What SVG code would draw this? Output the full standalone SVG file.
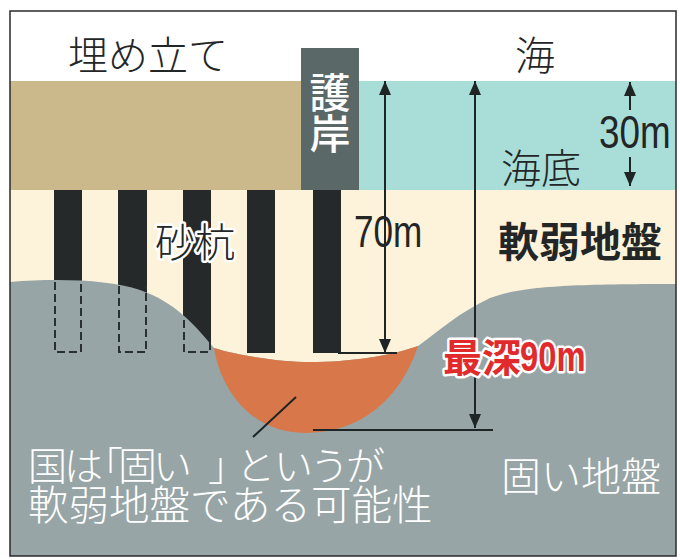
<svg xmlns="http://www.w3.org/2000/svg" width="680" height="560" viewBox="0 0 680 560">
  <style>
    .jp { font-family: "Noto Sans CJK JP", "Noto Sans CJK SC", sans-serif; }
    .num { font-family: "Liberation Sans", Arial, sans-serif; }
    .ink { fill: #232626; }
    .thin { font-weight: 300; }
    .white { fill: #ffffff; }
    .halo { paint-order: stroke; stroke: #ffffff; stroke-width: 5; stroke-linejoin: round; }
    .red { fill: #e12a2b; font-weight: 700; }
    .dim { stroke: #1f2424; stroke-width: 2; fill: none; }
    .pile { fill: #25292a; }
    .ghost { fill: none; stroke: #2a3030; stroke-width: 2; stroke-dasharray: 8 4; }
  </style>
  <defs>
    <marker id="ah" viewBox="0 0 14 12" refX="14" refY="6" markerWidth="14" markerHeight="12" markerUnits="userSpaceOnUse" orient="auto-start-reverse">
      <path d="M0,0 L14,6 L0,12 Z" fill="#1f2424"/>
    </marker>
  </defs>

  <rect width="680" height="560" fill="#ffffff"/>

  <!-- strata -->
  <g id="layers">
    <rect x="10" y="190" width="666" height="366" fill="#fdf2da"/>
    <rect x="10" y="81" width="292" height="109" fill="#cbb98b"/>
    <rect x="358" y="81" width="318" height="109" fill="#a8ded7"/>
  </g>

  <!-- sand compaction piles -->
  <g id="piles">
    <rect class="pile" x="54" y="190" width="28" height="163"/>
    <rect class="pile" x="118" y="190" width="29" height="163"/>
    <rect class="pile" x="183" y="190" width="28" height="163"/>
    <rect class="pile" x="247" y="190" width="28" height="163"/>
    <rect class="pile" x="313" y="190" width="28" height="163"/>
  </g>

  <!-- firm ground and the soft pocket -->
  <g id="ground">
    <path fill="#97a5a6" d="M10,282 C60,278 110,280 140,290 C175,302 195,325 214,348 C240,356 280,362 310,362 C350,362 390,356 418,346 C440,330 460,312 490,298 C520,287 560,284 676,284 L676,556 L10,556 Z"/>
    <path fill="#d8784a" d="M214,348 C222,395 255,433 305,433 C360,433 400,400 418,346 C390,356 350,362 310,362 C280,362 240,356 214,348 Z"/>
  </g>

  <!-- piles that stop short of the target depth -->
  <g id="pile-outlines">
    <path class="ghost" d="M55,282 V352 H81 V282"/>
    <path class="ghost" d="M119,286 V352 H146 V286"/>
    <path class="ghost" d="M184,320 V352 H210 V342"/>
  </g>

  <!-- seawall -->
  <g id="seawall">
    <rect x="301" y="48" width="58" height="142" fill="#5a6868"/>
    <text class="jp white" x="330" y="72" font-size="41" font-weight="500" writing-mode="vertical-rl">護岸</text>
  </g>

  <!-- depth dimensions -->
  <g id="connectors">
    <line class="dim" x1="385" y1="81" x2="385" y2="353" marker-start="url(#ah)" marker-end="url(#ah)"/>
    <line class="dim" x1="338" y1="353" x2="397" y2="353"/>
    <line class="dim" x1="475" y1="81" x2="475" y2="428" marker-start="url(#ah)" marker-end="url(#ah)"/>
    <line class="dim" x1="313" y1="430" x2="493" y2="430"/>
    <line class="dim" x1="630" y1="110" x2="630" y2="82" marker-end="url(#ah)"/>
    <line class="dim" x1="630" y1="157" x2="630" y2="186" marker-end="url(#ah)"/>
    <line class="dim" x1="253" y1="437" x2="296" y2="397"/>
  </g>

  <!-- labels -->
  <g id="labels">
    <text class="jp ink thin" x="68" y="70" font-size="40">埋め立て</text>
    <text class="jp ink thin" x="515" y="70" font-size="40">海</text>
    <text class="jp ink thin" x="501" y="183" font-size="40">海底</text>
    <text class="num ink" font-size="46" transform="translate(599,148) scale(0.8,1)">30m</text>
    <text class="num ink" font-size="45" transform="translate(354,247) scale(0.78,1)">70m</text>
    <text class="jp ink thin halo" x="155" y="257" font-size="40">砂杭</text>
    <text class="jp ink" x="498" y="257" font-size="41" font-weight="700">軟弱地盤</text>
    <text class="jp red halo" x="443" y="372" font-size="39">最深</text>
    <text class="num red halo" font-size="42" transform="translate(520,371) scale(0.78,1)">90m</text>
    <text class="jp white thin"><tspan y="480" font-size="39" x="28 64 84 118 153 208 236 274 310 346">国は「固い」というが</tspan><tspan x="28" y="520" font-size="40.5">軟弱地盤である可能性</tspan></text>
    <text class="jp white thin" x="501" y="491" font-size="40">固い地盤</text>
  </g>

  <!-- frame -->
  <rect x="10" y="11" width="666" height="545" fill="none" stroke="#2a2a2a" stroke-width="1.5"/>
</svg>
